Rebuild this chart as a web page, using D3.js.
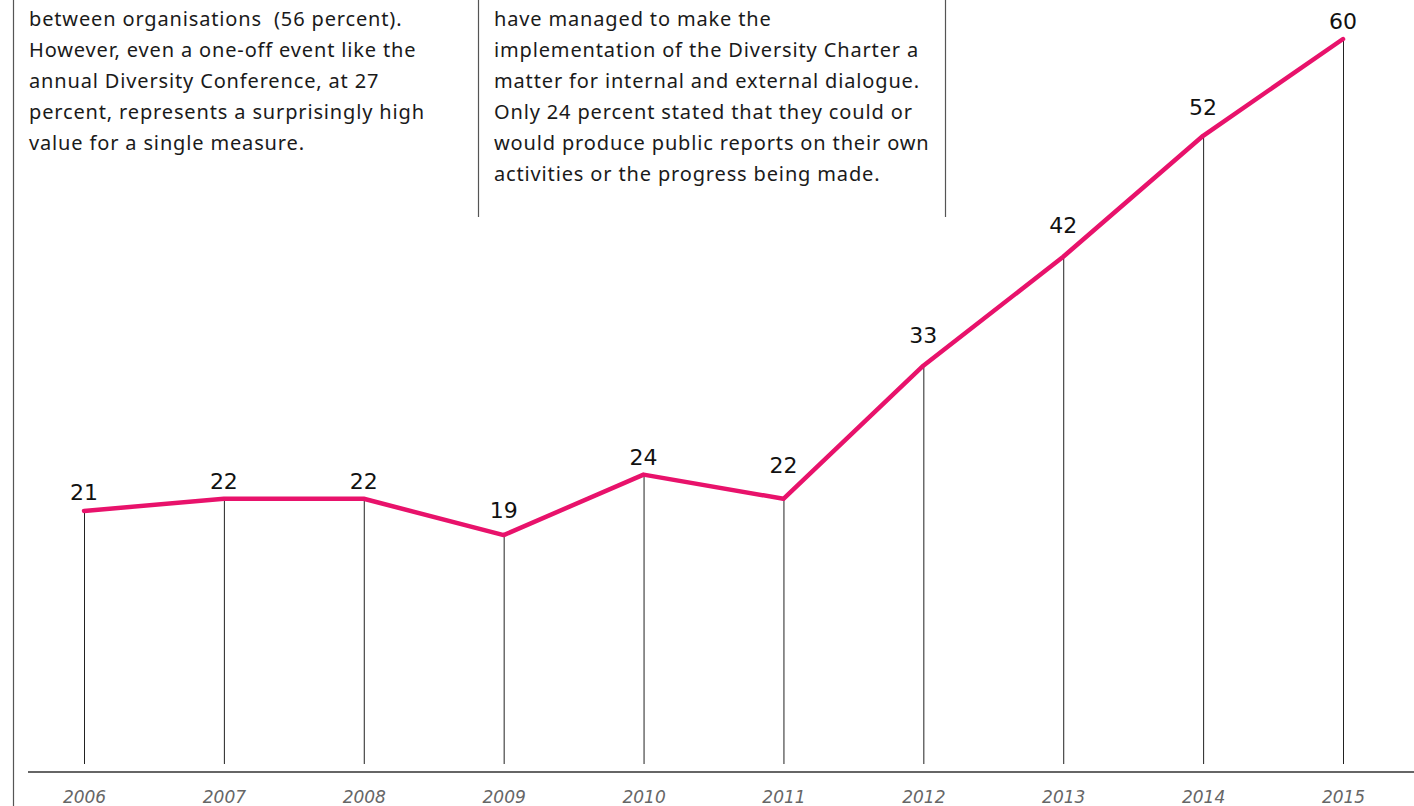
<!DOCTYPE html>
<html>
<head>
<meta charset="utf-8">
<script src="https://cdn.jsdelivr.net/npm/d3@7"></script>
<style>
  body { margin: 0; background: #fff; }
  svg { display: block; }
</style>
</head>
<body>
<div id="container"></div>
<script>
// Data
const years = ["2006", "2007", "2008", "2009", "2010", "2011", "2012", "2013", "2014", "2015"];
const values = [21, 22, 22, 19, 24, 22, 33, 42, 52, 60];

const leftText = [
  "between organisations  (56 percent).",
  "However, even a one-off event like the",
  "annual Diversity Conference, at 27",
  "percent, represents a surprisingly high",
  "value for a single measure."
];
const midText = [
  "have managed to make the",
  "implementation of the Diversity Charter a",
  "matter for internal and external dialogue.",
  "Only 24 percent stated that they could or",
  "would produce public reports on their own",
  "activities or the progress being made."
];

// Constants
const width = 1414;
const height = 806;
const pink = "#e8126b";

const svg = d3
  .select("#container")
  .append("svg")
  .attr("width", width)
  .attr("height", height);

// Scales
const xScale = d3.scalePoint().domain(years).range([84, 1343]);
const yScale = d3.scaleLinear().domain([0, 60]).range([765, 39]);

// Frame lines
svg.append("line")
  .attr("x1", 13.5).attr("x2", 13.5)
  .attr("y1", 0).attr("y2", height)
  .attr("stroke", "#555").attr("stroke-width", 1.2);

[478.5, 945.5].forEach((x) => {
  svg.append("line")
    .attr("x1", x).attr("x2", x)
    .attr("y1", 0).attr("y2", 217)
    .attr("stroke", "#555").attr("stroke-width", 1.2);
});

// Text blocks
const para = (lines, x) => {
  svg.append("g")
    .selectAll("text")
    .data(lines)
    .enter()
    .append("text")
    .attr("x", x)
    .attr("y", (d, i) => 26 + i * 31)
    .attr("font-family", "'Noto Sans', sans-serif")
    .attr("font-size", 20)
    .attr("letter-spacing", 0.85)
    .attr("fill", "#1a1a1a")
    .style("white-space", "pre")
    .text((d) => d);
};
para(leftText, 29);
para(midText, 494);

// Axis (year labels only, baseline drawn below)
const xAxis = d3.axisBottom(xScale).tickSize(0).tickPadding(19);
const axisG = svg.append("g")
  .attr("transform", "translate(0,772)")
  .call(xAxis);
axisG.select(".domain").remove();
axisG.selectAll("text")
  .attr("font-family", "'DejaVu Sans', sans-serif")
  .attr("font-style", "italic")
  .attr("font-size", 17)
  .attr("fill", "#666");

svg.append("line")
  .attr("x1", 28).attr("x2", width)
  .attr("y1", 772).attr("y2", 772)
  .attr("stroke", "#333").attr("stroke-width", 1.3);

// Drop lines
svg.append("g")
  .selectAll("line")
  .data(values)
  .enter()
  .append("line")
  .attr("x1", (d, i) => xScale(years[i]) + 0.5)
  .attr("x2", (d, i) => xScale(years[i]) + 0.5)
  .attr("y1", (d) => yScale(d))
  .attr("y2", 764)
  .attr("stroke", "#222")
  .attr("stroke-width", 1);

// Line
const line = d3.line()
  .x((d, i) => xScale(years[i]))
  .y((d) => yScale(d));

svg.append("path")
  .datum(values)
  .attr("d", line)
  .attr("fill", "none")
  .attr("stroke", pink)
  .attr("stroke-width", 4.5)
  .attr("stroke-linecap", "round")
  .attr("stroke-linejoin", "round");

// Value labels - lifted higher where the next segment climbs, so the line doesn't cross them
const labelOffset = (d, i) => {
  const rise = i < values.length - 1 ? Math.max(0, values[i + 1] - d) : 0;
  return 10 + rise * 1.4;
};

svg.append("g")
  .selectAll("text")
  .data(values)
  .enter()
  .append("text")
  .attr("x", (d, i) => xScale(years[i]))
  .attr("y", (d, i) => yScale(d) - labelOffset(d, i))
  .attr("text-anchor", "middle")
  .attr("font-family", "'DejaVu Sans', sans-serif")
  .attr("font-size", 22)
  .attr("fill", "#111")
  .text((d) => d);
</script>
</body>
</html>
